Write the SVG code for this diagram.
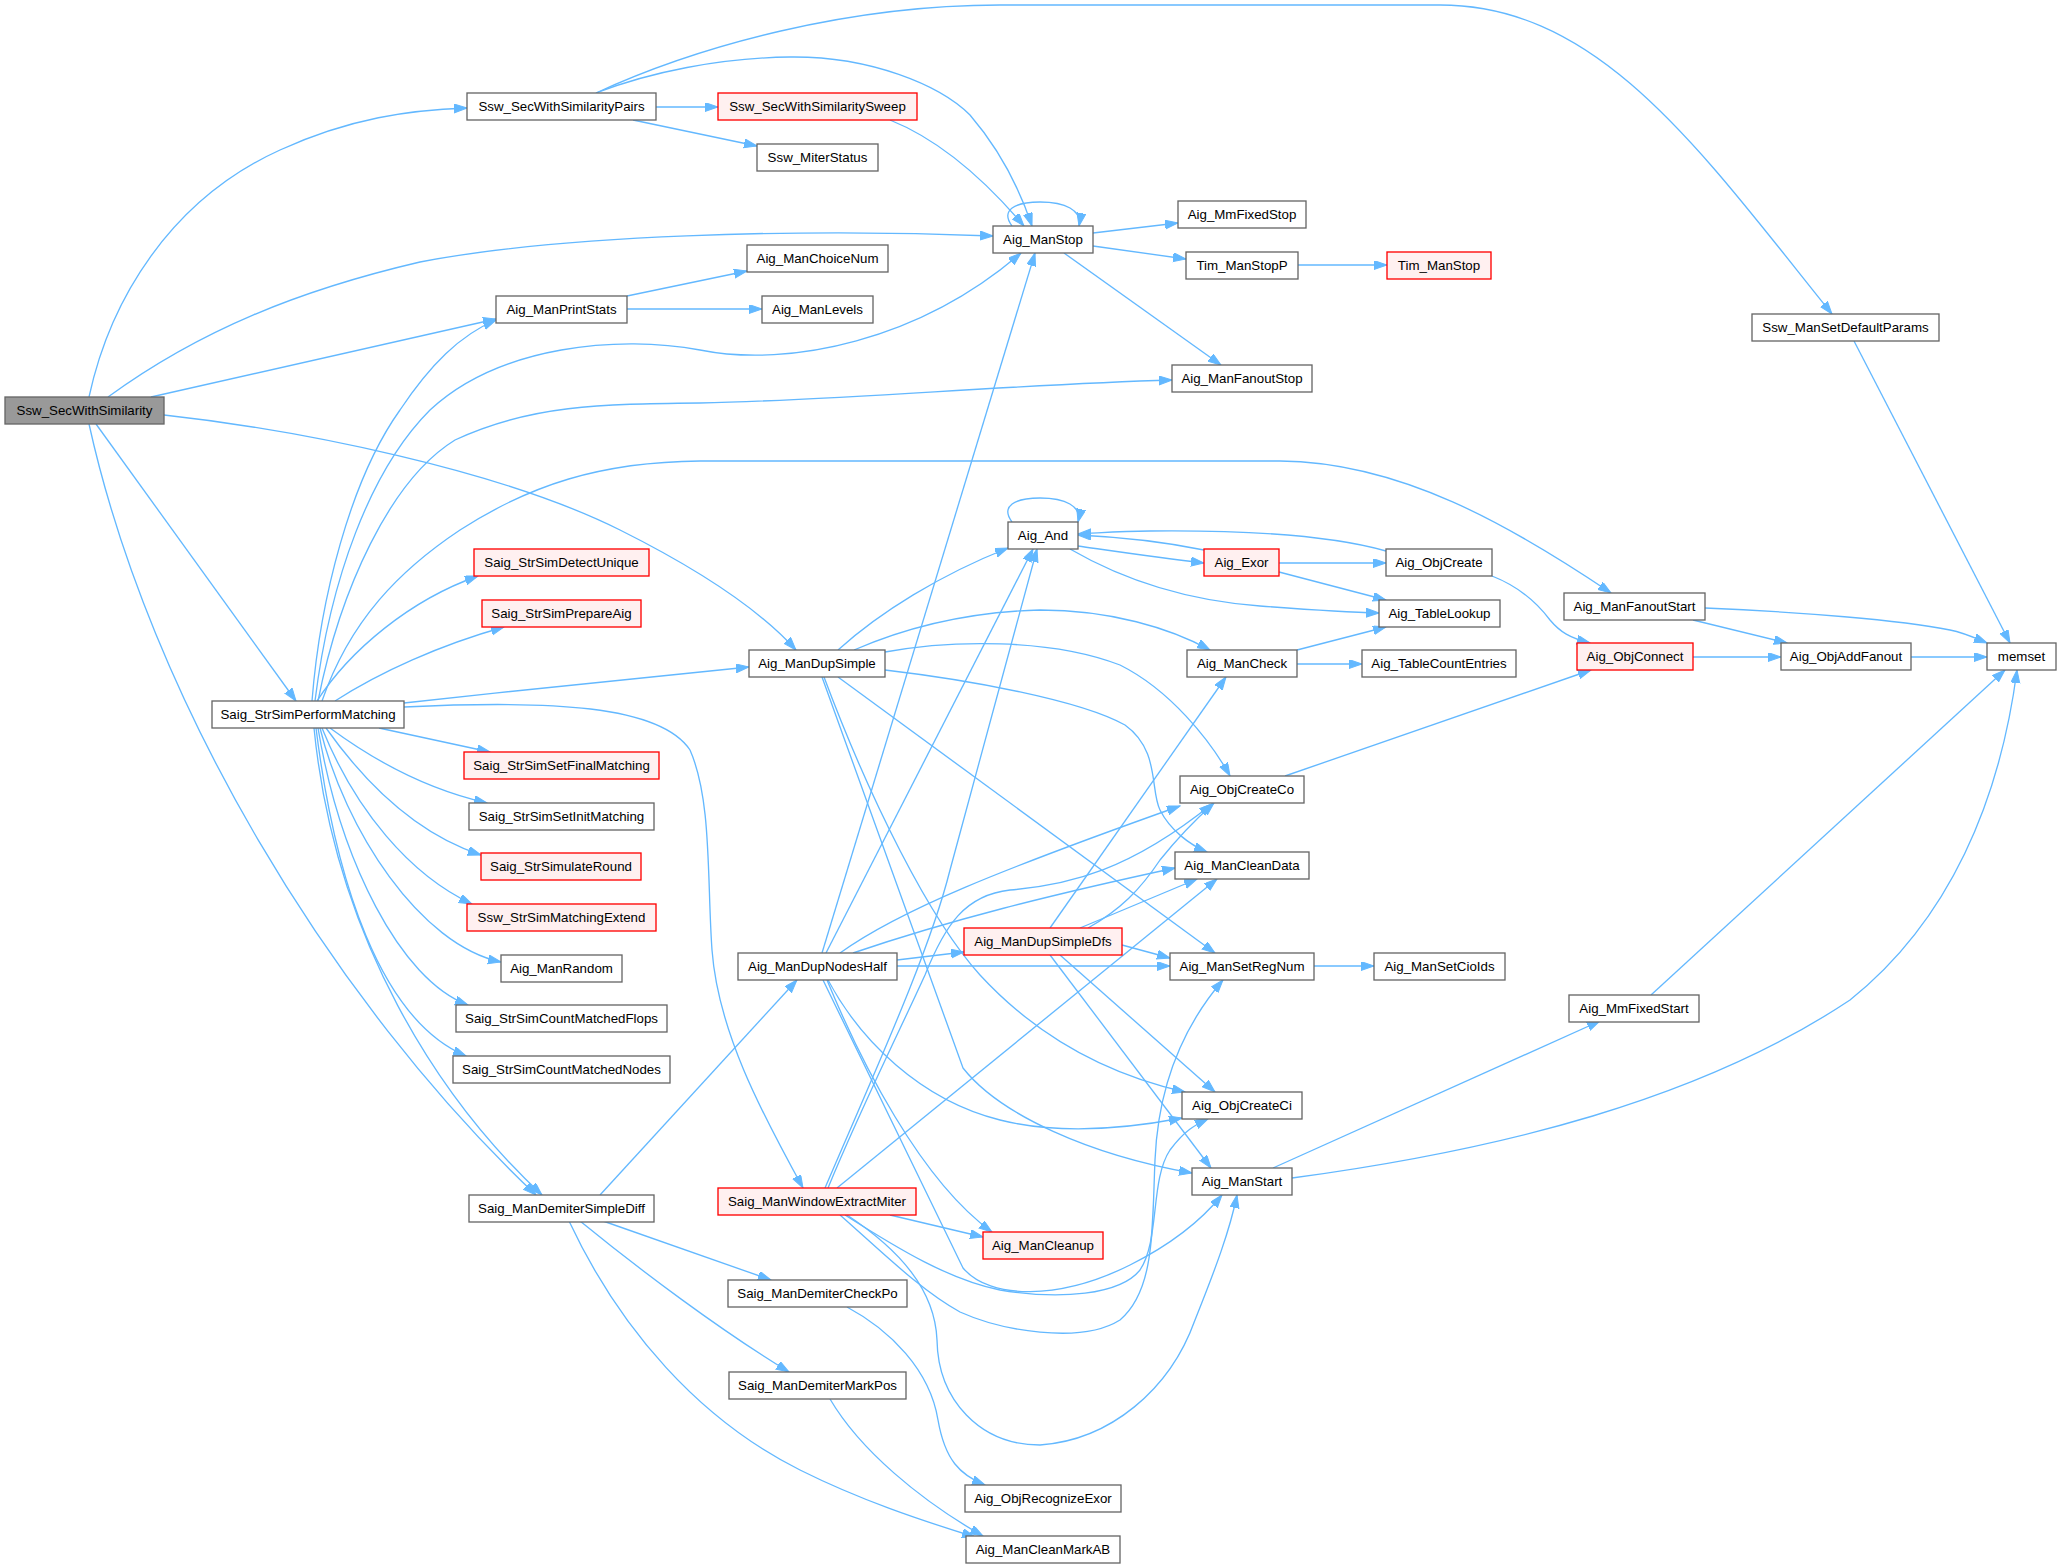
<svg xmlns="http://www.w3.org/2000/svg" width="2061" height="1568" viewBox="0 0 2061 1568">
<style>
.n rect{fill:#ffffff;stroke:#666666;stroke-width:1.33}
.r rect{fill:#fff0f0;stroke:#ff0000;stroke-width:1.33}
.g rect{fill:#999999;stroke:#666666;stroke-width:1.33}
text{font-family:"Liberation Sans",Arial,Helvetica,sans-serif;font-size:13.3px;text-anchor:middle;fill:#000000}
.e path{fill:none;stroke:#63b8ff;stroke-width:1.33;marker-end:url(#a)}
</style>
<defs>
<marker id="a" markerUnits="userSpaceOnUse" markerWidth="14" markerHeight="10" refX="13" refY="4.5" orient="auto">
<path d="M0,0 L13,4.5 L0,9 z" fill="#63b8ff" stroke="#63b8ff" stroke-width="1"/>
</marker>
</defs>
<rect width="2061" height="1568" fill="#ffffff"/>
<g id="edges" class="e">
<path d="M89,397 C110,300 170,200 280,150 C350,118 410,110 467,108"/>
<path d="M108,397 C200,330 300,290 420,262 C560,235 800,228 993,236"/>
<path d="M151,397 L496,319"/>
<path d="M164,415 C300,430 500,470 620,530 C700,570 760,610 796,650"/>
<path d="M96,424 L296,701"/>
<path d="M89,424 C150,700 330,1000 536,1195"/>
<path d="M596,93 C700,45 850,5 1000,5 L1440,5 C1600,5 1700,150 1832,314"/>
<path d="M596,93 C650,72 720,58 790,57 C870,56 940,85 970,115 C1000,150 1020,190 1032,226"/>
<path d="M656,107 L718,107"/>
<path d="M633,120 L757,146"/>
<path d="M890,120 C940,140 985,180 1024,226"/>
<path d="M1012,226 C1000,210 1015,202 1040,202 C1065,202 1082,210 1079,226"/>
<path d="M1093,233 L1178,223"/>
<path d="M1093,246 L1186,259"/>
<path d="M1064,253 L1221,365"/>
<path d="M1298,265 L1387,265"/>
<path d="M627,296 L747,271"/>
<path d="M627,309 L762,309"/>
<path d="M1854,341 L2010,643"/>
<path d="M312,701 C320,600 350,480 400,410 C430,365 460,335 496,320"/>
<path d="M315,701 C330,580 370,470 430,410 C500,345 620,335 700,350 C790,368 920,340 1021,253"/>
<path d="M318,701 C340,590 390,480 455,440 C530,405 600,404 700,403 C850,400 1000,385 1172,380"/>
<path d="M322,701 C350,620 400,570 460,530 C530,485 600,462 700,461 L1280,461 C1400,462 1510,525 1611,593"/>
<path d="M317,701 C350,650 410,600 478,576"/>
<path d="M335,701 C380,672 440,645 504,627"/>
<path d="M404,703 C520,690 640,678 749,667"/>
<path d="M404,707 C550,700 660,705 690,750 C712,800 707,880 712,950 C718,1030 760,1110 803,1188"/>
<path d="M379,728 L490,752"/>
<path d="M330,728 C380,765 430,790 487,803"/>
<path d="M326,728 C370,790 420,835 481,855"/>
<path d="M322,728 C355,810 410,875 472,904"/>
<path d="M320,728 C345,830 420,945 501,962"/>
<path d="M318,728 C340,860 400,980 468,1005"/>
<path d="M316,728 C335,880 380,1020 466,1056"/>
<path d="M314,728 C335,940 440,1100 542,1195"/>
<path d="M838,650 C880,612 940,575 1008,548"/>
<path d="M854,650 C900,630 960,612 1040,610 C1110,610 1170,628 1210,650"/>
<path d="M885,652 C950,640 1050,638 1120,665 C1170,690 1210,740 1230,776"/>
<path d="M885,670 C970,680 1080,700 1125,725 C1160,750 1150,790 1160,810 C1170,830 1190,845 1207,852"/>
<path d="M838,677 L1215,953"/>
<path d="M824,677 C870,800 930,920 980,975 C1040,1040 1110,1075 1185,1092"/>
<path d="M822,677 L963,1068 C1000,1115 1090,1155 1192,1173"/>
<path d="M1012,522 C1000,506 1015,498 1040,498 C1065,498 1082,506 1078,522"/>
<path d="M1078,546 C1120,552 1160,558 1204,563"/>
<path d="M1204,550 C1160,541 1120,537 1078,535"/>
<path d="M1070,549 C1120,578 1180,600 1260,606 C1300,609 1340,612 1379,613"/>
<path d="M1279,563 L1386,563"/>
<path d="M1279,572 L1386,600"/>
<path d="M1386,551 C1330,535 1250,530 1150,531 C1120,531 1100,533 1078,534"/>
<path d="M1492,576 C1515,585 1535,600 1550,620 C1560,632 1570,638 1590,643"/>
<path d="M1297,650 L1386,627"/>
<path d="M1297,664 L1362,664"/>
<path d="M1285,776 L1591,670"/>
<path d="M1705,608 C1800,612 1900,620 1950,630 C1965,633 1975,638 1987,643"/>
<path d="M1693,620 L1787,643"/>
<path d="M1693,657 L1781,657"/>
<path d="M1911,657 L1987,657"/>
<path d="M1651,995 L2005,670"/>
<path d="M1273,1168 L1600,1021"/>
<path d="M1292,1178 C1500,1150 1700,1100 1850,1000 C1950,920 2000,800 2017,670"/>
<path d="M1314,966 L1374,966"/>
<path d="M1050,928 L1226,677"/>
<path d="M1088,928 C1120,910 1140,890 1160,860 C1180,835 1195,820 1214,803"/>
<path d="M1080,928 L1197,879"/>
<path d="M1122,945 L1170,958"/>
<path d="M1060,955 L1215,1092"/>
<path d="M1050,955 L1211,1168"/>
<path d="M822,953 L1035,253"/>
<path d="M826,953 L1033,549"/>
<path d="M840,953 C900,910 1000,870 1180,806"/>
<path d="M853,953 C950,920 1050,895 1175,868"/>
<path d="M897,960 L964,952"/>
<path d="M897,966 L1170,966"/>
<path d="M828,980 C860,1040 920,1100 1000,1120 C1060,1135 1130,1128 1182,1118"/>
<path d="M827,980 C860,1060 920,1180 992,1232"/>
<path d="M823,980 L963,1268 C990,1300 1060,1300 1130,1265 C1170,1245 1200,1222 1222,1195"/>
<path d="M825,1188 C880,1060 930,950 950,870 L1037,549"/>
<path d="M828,1188 C860,1110 900,1030 925,975 C945,925 965,895 1010,890 C1070,885 1130,870 1212,804"/>
<path d="M837,1188 L1217,879"/>
<path d="M890,1215 L983,1237"/>
<path d="M840,1215 C880,1250 920,1290 960,1312 C1000,1330 1080,1345 1120,1320 C1155,1290 1152,1230 1155,1160 C1158,1090 1180,1030 1223,980"/>
<path d="M845,1215 C900,1250 950,1280 1000,1290 C1060,1300 1120,1295 1140,1270 C1160,1240 1150,1180 1170,1150 C1185,1130 1195,1125 1208,1119"/>
<path d="M847,1215 C900,1250 935,1290 937,1340 C938,1400 980,1445 1040,1445 C1110,1440 1170,1390 1195,1320 C1215,1270 1230,1230 1237,1195"/>
<path d="M600,1195 L797,980"/>
<path d="M603,1221 L771,1280"/>
<path d="M580,1221 C640,1270 720,1330 789,1372"/>
<path d="M569,1221 C620,1330 700,1420 800,1470 C860,1500 920,1520 975,1537"/>
<path d="M847,1307 C890,1330 930,1370 938,1420 C945,1460 960,1475 985,1485"/>
<path d="M830,1399 C860,1450 920,1500 983,1536"/>
</g>
<g id="n_root" class="g"><rect x="5" y="397" width="159" height="27"/><text x="84.5" y="415">Ssw_SecWithSimilarity</text></g>
<g id="n_pairs" class="n"><rect x="467" y="93" width="189" height="27"/><text x="561.5" y="111">Ssw_SecWithSimilarityPairs</text></g>
<g id="n_sweep" class="r"><rect x="718" y="93" width="199" height="27"/><text x="817.5" y="111">Ssw_SecWithSimilaritySweep</text></g>
<g id="n_miterstatus" class="n"><rect x="757" y="144" width="121" height="27"/><text x="817.5" y="162">Ssw_MiterStatus</text></g>
<g id="n_manstop" class="n"><rect x="993" y="226" width="100" height="27"/><text x="1043" y="244">Aig_ManStop</text></g>
<g id="n_mmfixedstop" class="n"><rect x="1178" y="201" width="128" height="27"/><text x="1242" y="219">Aig_MmFixedStop</text></g>
<g id="n_timstopp" class="n"><rect x="1186" y="252" width="112" height="27"/><text x="1242" y="270">Tim_ManStopP</text></g>
<g id="n_timstop" class="r"><rect x="1387" y="252" width="104" height="27"/><text x="1439" y="270">Tim_ManStop</text></g>
<g id="n_choicenum" class="n"><rect x="747" y="245" width="141" height="27"/><text x="817.5" y="263">Aig_ManChoiceNum</text></g>
<g id="n_printstats" class="n"><rect x="496" y="296" width="131" height="27"/><text x="561.5" y="314">Aig_ManPrintStats</text></g>
<g id="n_levels" class="n"><rect x="762" y="296" width="111" height="27"/><text x="817.5" y="314">Aig_ManLevels</text></g>
<g id="n_setdefault" class="n"><rect x="1752" y="314" width="187" height="27"/><text x="1845.5" y="332">Ssw_ManSetDefaultParams</text></g>
<g id="n_fanoutstop" class="n"><rect x="1172" y="365" width="140" height="27"/><text x="1242" y="383">Aig_ManFanoutStop</text></g>
<g id="n_and" class="n"><rect x="1008" y="522" width="70" height="27"/><text x="1043" y="540">Aig_And</text></g>
<g id="n_detectunique" class="r"><rect x="474" y="549" width="175" height="27"/><text x="561.5" y="567">Saig_StrSimDetectUnique</text></g>
<g id="n_exor" class="r"><rect x="1204" y="549" width="75" height="27"/><text x="1241.5" y="567">Aig_Exor</text></g>
<g id="n_objcreate" class="n"><rect x="1386" y="549" width="106" height="27"/><text x="1439" y="567">Aig_ObjCreate</text></g>
<g id="n_fanoutstart" class="n"><rect x="1564" y="593" width="141" height="27"/><text x="1634.5" y="611">Aig_ManFanoutStart</text></g>
<g id="n_prepareaig" class="r"><rect x="482" y="600" width="159" height="27"/><text x="561.5" y="618">Saig_StrSimPrepareAig</text></g>
<g id="n_tablelookup" class="n"><rect x="1379" y="600" width="121" height="27"/><text x="1439.5" y="618">Aig_TableLookup</text></g>
<g id="n_objconnect" class="r"><rect x="1577" y="643" width="116" height="27"/><text x="1635" y="661">Aig_ObjConnect</text></g>
<g id="n_objaddfanout" class="n"><rect x="1781" y="643" width="130" height="27"/><text x="1846" y="661">Aig_ObjAddFanout</text></g>
<g id="n_memset" class="n"><rect x="1987" y="643" width="69" height="27"/><text x="2021.5" y="661">memset</text></g>
<g id="n_dupsimple" class="n"><rect x="749" y="650" width="136" height="27"/><text x="817" y="668">Aig_ManDupSimple</text></g>
<g id="n_mancheck" class="n"><rect x="1187" y="650" width="110" height="27"/><text x="1242" y="668">Aig_ManCheck</text></g>
<g id="n_tablecount" class="n"><rect x="1362" y="650" width="154" height="27"/><text x="1439" y="668">Aig_TableCountEntries</text></g>
<g id="n_performmatching" class="n"><rect x="212" y="701" width="192" height="27"/><text x="308" y="719">Saig_StrSimPerformMatching</text></g>
<g id="n_setfinal" class="r"><rect x="464" y="752" width="195" height="27"/><text x="561.5" y="770">Saig_StrSimSetFinalMatching</text></g>
<g id="n_objcreateco" class="n"><rect x="1180" y="776" width="124" height="27"/><text x="1242" y="794">Aig_ObjCreateCo</text></g>
<g id="n_setinit" class="n"><rect x="469" y="803" width="185" height="27"/><text x="561.5" y="821">Saig_StrSimSetInitMatching</text></g>
<g id="n_cleandata" class="n"><rect x="1175" y="852" width="134" height="27"/><text x="1242" y="870">Aig_ManCleanData</text></g>
<g id="n_simround" class="r"><rect x="481" y="853" width="160" height="27"/><text x="561" y="871">Saig_StrSimulateRound</text></g>
<g id="n_matchext" class="r"><rect x="467" y="904" width="189" height="27"/><text x="561.5" y="922">Ssw_StrSimMatchingExtend</text></g>
<g id="n_dupsimpledfs" class="r"><rect x="964" y="928" width="158" height="27"/><text x="1043" y="946">Aig_ManDupSimpleDfs</text></g>
<g id="n_dupnodeshalf" class="n"><rect x="738" y="953" width="159" height="27"/><text x="817.5" y="971">Aig_ManDupNodesHalf</text></g>
<g id="n_setregnum" class="n"><rect x="1170" y="953" width="144" height="27"/><text x="1242" y="971">Aig_ManSetRegNum</text></g>
<g id="n_setcioids" class="n"><rect x="1374" y="953" width="131" height="27"/><text x="1439.5" y="971">Aig_ManSetCioIds</text></g>
<g id="n_random" class="n"><rect x="501" y="955" width="121" height="27"/><text x="561.5" y="973">Aig_ManRandom</text></g>
<g id="n_mmfixedstart" class="n"><rect x="1569" y="995" width="130" height="27"/><text x="1634" y="1013">Aig_MmFixedStart</text></g>
<g id="n_countflops" class="n"><rect x="456" y="1005" width="211" height="27"/><text x="561.5" y="1023">Saig_StrSimCountMatchedFlops</text></g>
<g id="n_countnodes" class="n"><rect x="453" y="1056" width="217" height="27"/><text x="561.5" y="1074">Saig_StrSimCountMatchedNodes</text></g>
<g id="n_objcreateci" class="n"><rect x="1182" y="1092" width="120" height="27"/><text x="1242" y="1110">Aig_ObjCreateCi</text></g>
<g id="n_manstart" class="n"><rect x="1192" y="1168" width="100" height="27"/><text x="1242" y="1186">Aig_ManStart</text></g>
<g id="n_windowextract" class="r"><rect x="718" y="1188" width="198" height="27"/><text x="817" y="1206">Saig_ManWindowExtractMiter</text></g>
<g id="n_demitersimple" class="n"><rect x="469" y="1195" width="185" height="27"/><text x="561.5" y="1213">Saig_ManDemiterSimpleDiff</text></g>
<g id="n_cleanup" class="r"><rect x="983" y="1232" width="120" height="27"/><text x="1043" y="1250">Aig_ManCleanup</text></g>
<g id="n_checkpo" class="n"><rect x="728" y="1280" width="179" height="27"/><text x="817.5" y="1298">Saig_ManDemiterCheckPo</text></g>
<g id="n_markpos" class="n"><rect x="729" y="1372" width="177" height="27"/><text x="817.5" y="1390">Saig_ManDemiterMarkPos</text></g>
<g id="n_recognizeexor" class="n"><rect x="965" y="1485" width="156" height="27"/><text x="1043" y="1503">Aig_ObjRecognizeExor</text></g>
<g id="n_cleanmarkab" class="n"><rect x="966" y="1536" width="154" height="27"/><text x="1043" y="1554">Aig_ManCleanMarkAB</text></g>
</svg>
